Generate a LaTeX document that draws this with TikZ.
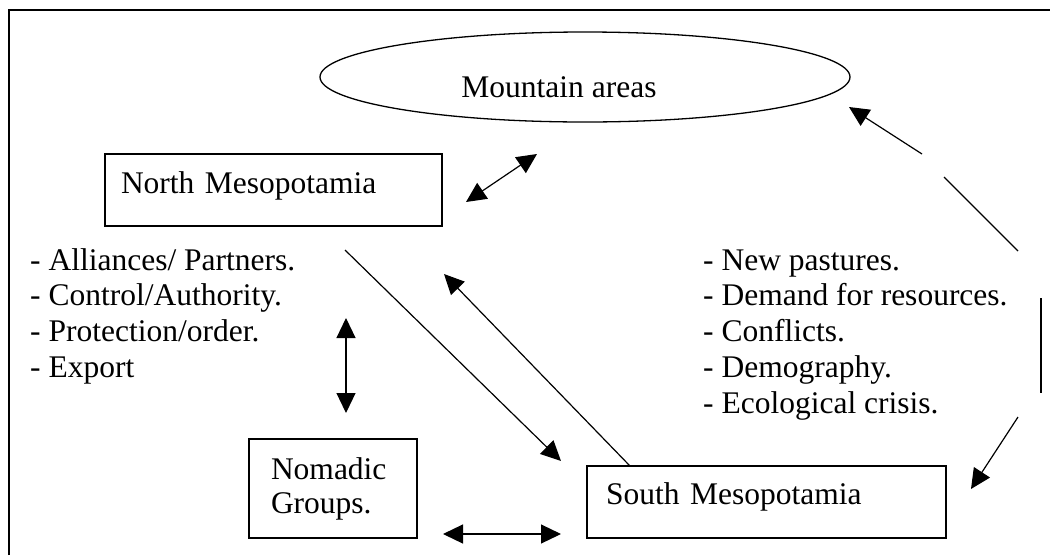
\documentclass[tikz,border=0pt]{standalone}
\usepackage{fontspec}
\setmainfont{Liberation Serif}
\usetikzlibrary{arrows.meta,shapes.geometric}

\begin{document}
\begin{tikzpicture}[x=1pt,y=-1pt,
  txt/.style={font=\fontsize{31.5pt}{35.8pt}\selectfont, inner sep=0pt},
  region/.style={draw, line width=1.3pt, txt, align=left, inner ysep=0pt},
  link/.style={line width=1.2pt},
  head/.tip={Triangle[length=20pt,width=19pt]},
  tip/.style={link,-head},
  twotip/.style={link,head-head},
]
\useasboundingbox (0,0) rectangle (1050,555);

% open frame: top and left edges only
\draw[line width=2pt] (9,555) -- (9,10) -- (1050,10);

% regions
\node[ellipse, draw, line width=1.3pt, minimum width=530pt, minimum height=90pt, inner sep=0pt] (mtn) at (585,77) {};
\node[txt, anchor=base] (mtnlabel) at (559,97) {Mountain areas};

\node[region, inner xsep=16pt, text width=305pt, minimum height=72pt,
      text height=22pt, text depth=16pt] (north) at (273.5,190) {North Mesopotamia};
\node[region, inner xsep=19pt, text width=321pt, minimum height=72pt,
      text height=22pt, text depth=17pt] (south) at (766.5,502) {South Mesopotamia};
\node[region, inner xsep=22pt, text width=124pt, minimum height=99pt,
      font=\fontsize{31.5pt}{34pt}\selectfont] (nomads) at (333,488.5) {Nomadic\\Groups.};

% factor lists (base anchor sits on the last line)
\node[txt, anchor=base west, align=left] (pull) at (30,377.4)
  {- Alliances/ Partners.\\- Control/Authority.\\- Protection/order.\\- Export};
\node[txt, anchor=base west, align=left] (push) at (703,413.2)
  {- New pastures.\\- Demand for resources.\\- Conflicts.\\- Demography.\\- Ecological crisis.};

% connector end points
\coordinate (nmA) at (466,202);  \coordinate (mtA) at (537,154);
\coordinate (nmB) at (345,250);  \coordinate (smB) at (561,461);
\coordinate (smC) at (630,466);  \coordinate (nmC) at (444,274);
\coordinate (plA) at (346,318);  \coordinate (ngA) at (346,413);
\coordinate (ngB) at (443,534);  \coordinate (smD) at (561,534);
\coordinate (r1) at (922,154);   \coordinate (mtR) at (849,107);
\coordinate (r2) at (944,177);   \coordinate (r3) at (1018,251);
\coordinate (r4) at (1041,298);  \coordinate (r5) at (1041,393);
\coordinate (r6) at (1018,417);  \coordinate (smR) at (971,489);

% connectors
\draw[twotip] (nmA) -- (mtA);
\draw[tip] (nmB) -- (smB);
\draw[tip] (smC) -- (nmC);
\draw[twotip] (plA) -- (ngA);
\draw[twotip] (ngB) -- (smD);

% broken loop on the right, from South Mesopotamia up to the mountains
\draw[tip] (r1) -- (mtR);
\draw[link] (r2) -- (r3);
\draw[link] (r4) -- (r5);
\draw[tip] (r6) -- (smR);
\end{tikzpicture}
\end{document}
